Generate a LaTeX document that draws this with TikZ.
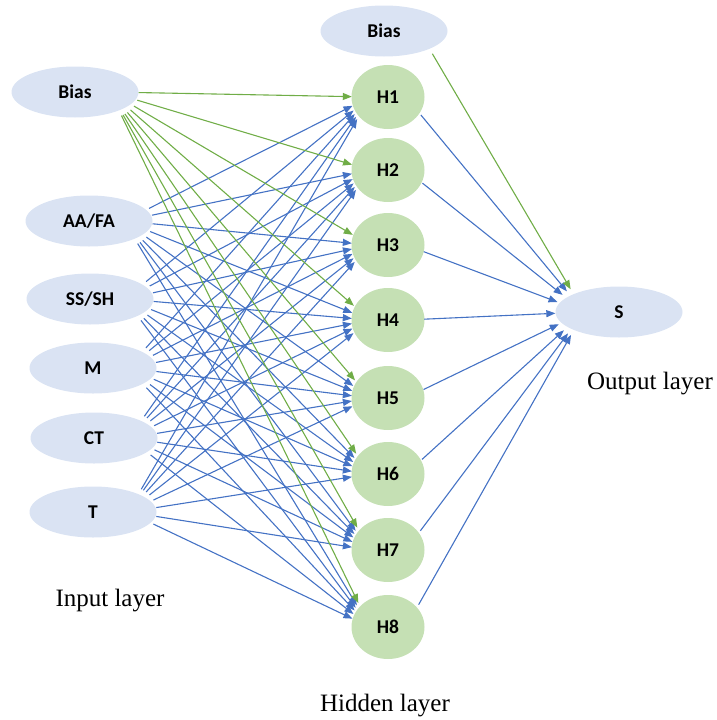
\documentclass[tikz,border=0pt]{standalone}
\usepackage{fontspec}
\setmainfont{Liberation Serif}
\newfontfamily\nodefont{Carlito}
\usetikzlibrary{shapes.geometric,arrows.meta,calc}
\definecolor{inputfill}{HTML}{DAE3F3}
\definecolor{hiddenfill}{HTML}{C5E0B4}
\definecolor{wblue}{HTML}{4472C4}
\definecolor{wgreen}{HTML}{70AD47}
\begin{document}
\begin{tikzpicture}[x=1pt,y=-1pt,
  unitnode/.style={ellipse,fill=inputfill,minimum width=127pt,minimum height=51pt,
    inner sep=0pt,font=\nodefont\bfseries\fontsize{19.5}{22}\selectfont},
  hiddennode/.style={ellipse,fill=hiddenfill,minimum width=73pt,minimum height=64pt,
    inner sep=0pt,font=\nodefont\bfseries\fontsize{19.5}{22}\selectfont},
  % invisible attachment ellipses: connectors leave from / arrive at the
  % facing side of each unit
  outport/.style={ellipse,minimum width=57pt,minimum height=51pt,inner sep=0pt},
  hinport/.style={ellipse,minimum width=36pt,minimum height=62pt,inner sep=0pt},
  houtport/.style={ellipse,minimum width=36pt,minimum height=62pt,inner sep=0pt},
  layerlabel/.style={font=\fontsize{25}{30}\selectfont},
  weight/.style={-{Triangle[length=9pt,width=7pt]},line width=1.1pt,draw=wblue},
  biasweight/.style={-{Triangle[length=9pt,width=7pt]},line width=1.1pt,draw=wgreen}]
\useasboundingbox (0,0) rectangle (716,720);

% input layer
\node[unitnode] (bi) at (75,92) {Bias};
\node[unitnode] (in1) at (89,221) {AA/FA};
\node[unitnode] (in2) at (90,299) {SS/SH};
\node[unitnode] (in3) at (93,368) {M};
\node[unitnode] (in4) at (94,438) {CT};
\node[unitnode] (in5) at (93,512) {T};
\foreach \n in {bi,in1,in2,in3,in4,in5}
  \node[outport] (\n p) at ($(\n)+(35,0)$) {};

% hidden layer
\node[unitnode] (bh) at (384,31) {Bias};
\node[outport] (bhp) at ($(bh)+(35,0)$) {};
\foreach \i/\y in {1/97,2/170,3/245,4/320,5/398,6/474,7/550,8/627}{
  \node[hiddennode] (h\i) at (388,\y) {H\i};
  \node[hinport] (h\i l) at (370,\y) {};
  \node[houtport] (h\i r) at (406,\y) {};
}

% output layer
\node[unitnode] (s) at (619,312) {S};
\node[outport] (sl) at ($(s)+(-35,0)$) {};

% layer captions
\node[layerlabel] (lin) at (110,601) {Input layer};
\node[layerlabel] (lhid) at (385,706) {Hidden layer};
\node[layerlabel] (lout) at (650,384) {Output layer};

% weights: inputs to hidden units
\foreach \j in {1,...,5}
  \foreach \i in {1,...,8}
    \draw[weight] (in\j p) -- (h\i l);
% bias to hidden units
\foreach \i in {1,...,8}
  \draw[biasweight] (bip) -- (h\i l);
% hidden units to output
\foreach \i in {1,...,8}
  \draw[weight] (h\i r) -- (sl);
\draw[biasweight] (bhp) -- (sl);
\end{tikzpicture}
\end{document}
